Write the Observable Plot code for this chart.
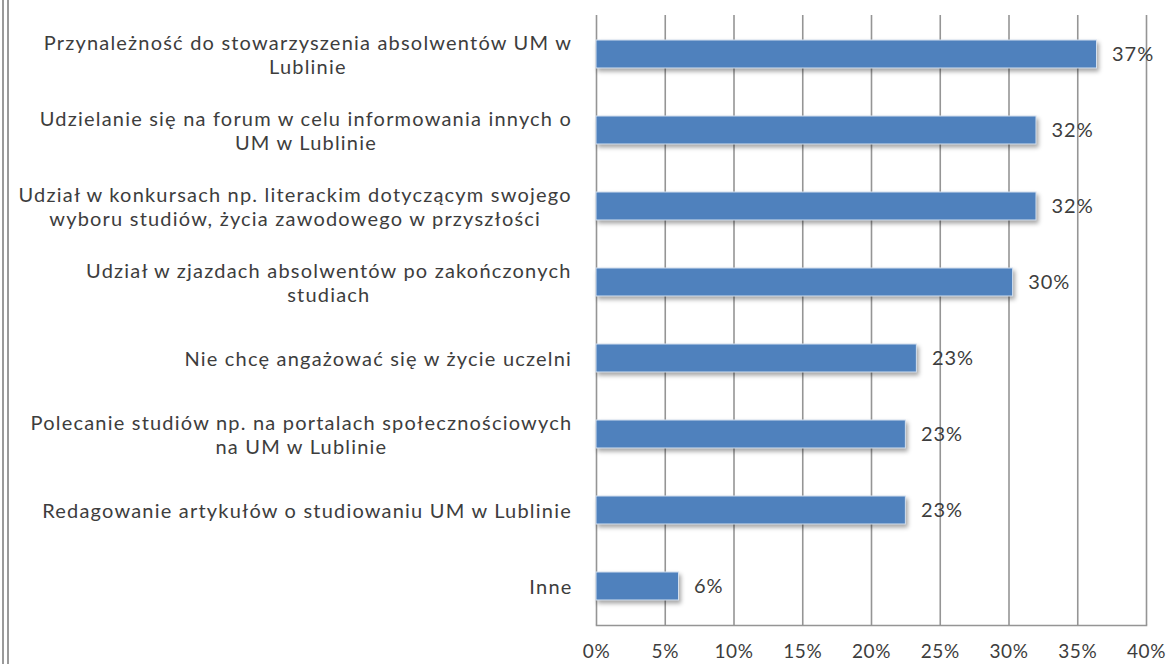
<!DOCTYPE html>
<html>
<head>
<meta charset="utf-8">
<script src="https://cdn.jsdelivr.net/npm/d3@7"></script>
<script src="https://cdn.jsdelivr.net/npm/@observablehq/plot@0.6"></script>
<style>
  html, body { margin: 0; padding: 0; background: #fff; }
  #wrap { position: relative; width: 1166px; height: 664px; overflow: hidden; }
  #edge { position: absolute; left: 2px; top: 0; width: 3px; height: 664px;
          border-left: 2px solid #9a9a9a; border-right: 2px solid #9a9a9a; }
  #wrap svg g[aria-label="bar"] rect { filter: drop-shadow(2px 3px 2px rgba(0,0,0,0.35)); }
  #wrap svg g.catlabel text { letter-spacing: 1.2px; }
  #wrap svg g.vallabel text { letter-spacing: 1px; }
  #wrap svg g[aria-label="x-axis tick label"] text { letter-spacing: 0.6px; }
</style>
</head>
<body>
<div id="wrap"><div id="edge"></div></div>
<script>
const categories = [
  "Przynależność do stowarzyszenia absolwentów UM w\nLublinie",
  "Udzielanie się na forum w celu informowania innych o\nUM w Lublinie",
  "Udział w konkursach np. literackim dotyczącym swojego\nwyboru studiów, życia zawodowego w przyszłości",
  "Udział w zjazdach absolwentów po zakończonych\nstudiach",
  "Nie chcę angażować się w życie uczelni",
  "Polecanie studiów np. na portalach społecznościowych\nna UM w Lublinie",
  "Redagowanie artykułów o studiowaniu UM w Lublinie",
  "Inne"
];
const values = [36.4, 32.0, 32.0, 30.3, 23.3, 22.5, 22.5, 6.0];
const valueLabels = ["37%", "32%", "32%", "30%", "23%", "23%", "23%", "6%"];
const xTicks = [0, 5, 10, 15, 20, 25, 30, 35, 40];

const data = categories.map((c, i) => ({cat: c, value: values[i], label: valueLabels[i]}));

const FONT = "Lato, 'Open Sans', sans-serif";
const FS = 20;
const LS = 1.2;
const textColor = "#3d3d3d";

const ctx = document.createElement("canvas").getContext("2d");
ctx.font = `${FS}px Lato`;
const lineW = l => ctx.measureText(l).width + l.length * LS;
const blockWidth = c => Math.max(...c.split("\n").map(lineW));

const labelMarks = categories.map(c => Plot.text([c], {
  y: d => d, text: d => d, frameAnchor: "left", textAnchor: "middle",
  dx: -24 - blockWidth(c) / 2, lineHeight: 1.17, fill: textColor, fontSize: FS,
  className: "catlabel"
}));

const chart = Plot.plot({
  width: 1166, height: 664,
  marginLeft: 596, marginRight: 20, marginTop: 15, marginBottom: 39,
  style: {fontFamily: FONT, fontSize: FS + "px", color: textColor, background: "transparent"},
  x: {domain: [0, 40], axis: null},
  y: {domain: categories, padding: 0, axis: null},
  marks: [
    Plot.ruleX(xTicks, {stroke: "#959595", strokeWidth: 1.6}),
    Plot.frame({anchor: "bottom", stroke: "#959595", strokeWidth: 1.6}),
    Plot.axisX({ticks: xTicks, tickSize: 0, tickPadding: 19, tickFormat: d => d + "%", fontSize: 19, fill: textColor, label: null}),
    Plot.barX(data, {x: "value", y: "cat", fill: "#4f81bd", stroke: "#d4e0ef", strokeWidth: 1, insetTop: 24, insetBottom: 24}),
    Plot.text(data, {x: "value", y: "cat", text: "label", textAnchor: "start", dx: 15, fill: textColor, fontSize: FS, className: "vallabel"}),
    ...labelMarks
  ]
});
document.getElementById("wrap").appendChild(chart);
</script>
</body>
</html>
